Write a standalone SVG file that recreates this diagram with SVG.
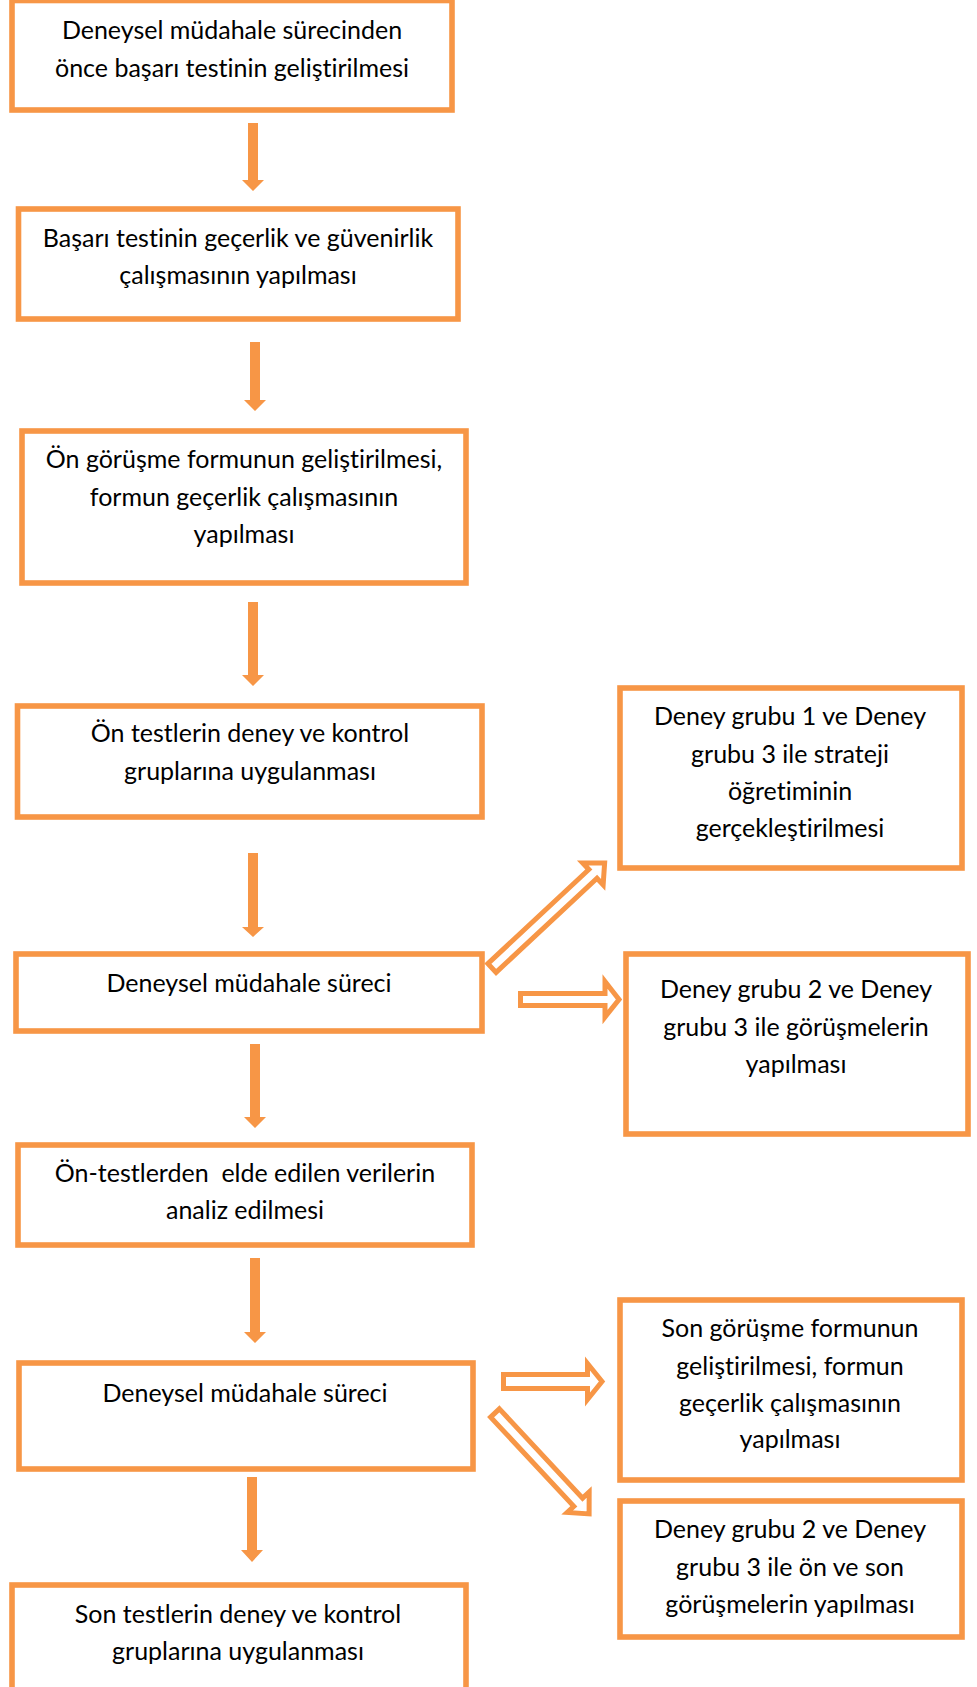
<svg xmlns="http://www.w3.org/2000/svg" width="977" height="1687" viewBox="0 0 977 1687">
<style>
.box{fill:#fff;stroke:#F79646;stroke-width:5.6}
.t{font-family:Lato,"Liberation Sans",sans-serif;font-size:25px;fill:#000;text-anchor:middle;white-space:pre;font-variant-ligatures:none;font-feature-settings:"liga" 0}
.down{fill:#F79646;stroke:none}
.blk{fill:#fff;stroke:#F79646;stroke-width:5;stroke-linejoin:miter}
</style>
<rect width="977" height="1687" fill="#fff"/>
<g id="connectors">
<polygon class="down" points="248,123 258,123 258,180 264,180 253,191 242,180 248,180"/>
<polygon class="down" points="250,342 260,342 260,400 266,400 255,411 244,400 250,400"/>
<polygon class="down" points="248,602 258,602 258,675 264,675 253,686 242,675 248,675"/>
<polygon class="down" points="248,853 258,853 258,927 264,927 253,937 242,927 248,927"/>
<polygon class="down" points="250,1044 260,1044 260,1117 266,1117 255,1128 244,1117 250,1117"/>
<polygon class="down" points="250,1258 260,1258 260,1332 266,1332 255,1343 244,1332 250,1332"/>
<polygon class="down" points="247,1477 257,1477 257,1550 263,1550 252,1562 241,1550 247,1550"/>
<polygon class="blk" transform="translate(492,968) rotate(-43)" points="0,-6 138,-6 138,-15 154,0 138,15 138,6 0,6"/>
<polygon class="blk" points="520.5,993.5 605,993.5 605,981.5 619,999.5 605,1017 605,1005.5 520.5,1005.5"/>
<polygon class="blk" points="503.5,1374.5 587.5,1374.5 587.5,1363.5 602,1381.5 587.5,1399.5 587.5,1388.5 503.5,1388.5"/>
<polygon class="blk" transform="translate(495,1413) rotate(47)" points="0,-6 122,-6 122,-15 138,0 122,15 122,6 0,6"/>
</g>
<g id="n1"><rect class="box" x="12" y="0.5" width="440" height="109.5"/>
<text class="t" x="232" y="39">Deneysel müdahale sürecinden</text>
<text class="t" x="232" y="77">önce başarı testinin geliştirilmesi</text></g>
<g id="n2"><rect class="box" x="18.5" y="209" width="439.5" height="110"/>
<text class="t" x="238" y="247">Başarı testinin geçerlik ve güvenirlik</text>
<text class="t" x="238" y="284">çalışmasının yapılması</text></g>
<g id="n3"><rect class="box" x="22" y="431" width="444" height="152"/>
<text class="t" x="244" y="468">Ön görüşme formunun geliştirilmesi,</text>
<text class="t" x="244" y="506">formun geçerlik çalışmasının</text>
<text class="t" x="244" y="543">yapılması</text></g>
<g id="n4"><rect class="box" x="17.5" y="706" width="464.5" height="111"/>
<text class="t" x="250" y="742">Ön testlerin deney ve kontrol</text>
<text class="t" x="250" y="780">gruplarına uygulanması</text></g>
<g id="n5"><rect class="box" x="620" y="688" width="342" height="180"/>
<text class="t" x="790" y="725">Deney grubu 1 ve Deney</text>
<text class="t" x="790" y="763">grubu 3 ile strateji</text>
<text class="t" x="790" y="800">öğretiminin</text>
<text class="t" x="790" y="837">gerçekleştirilmesi</text></g>
<g id="n6"><rect class="box" x="626" y="954" width="342" height="180"/>
<text class="t" x="796" y="998">Deney grubu 2 ve Deney</text>
<text class="t" x="796" y="1036">grubu 3 ile görüşmelerin</text>
<text class="t" x="796" y="1073">yapılması</text></g>
<g id="n7"><rect class="box" x="16" y="954" width="466" height="77"/>
<text class="t" x="249" y="992">Deneysel müdahale süreci</text></g>
<g id="n8"><rect class="box" x="18" y="1145" width="454" height="100"/>
<text class="t" x="245" y="1182">Ön-testlerden  elde edilen verilerin</text>
<text class="t" x="245" y="1219">analiz edilmesi</text></g>
<g id="n9"><rect class="box" x="19" y="1363" width="454" height="106"/>
<text class="t" x="245" y="1402">Deneysel müdahale süreci</text></g>
<g id="n10"><rect class="box" x="12" y="1585" width="454" height="120"/>
<text class="t" x="238" y="1623">Son testlerin deney ve kontrol</text>
<text class="t" x="238" y="1660">gruplarına uygulanması</text></g>
<g id="n11"><rect class="box" x="620" y="1300" width="342" height="180"/>
<text class="t" x="790" y="1337">Son görüşme formunun</text>
<text class="t" x="790" y="1375">geliştirilmesi, formun</text>
<text class="t" x="790" y="1412">geçerlik çalışmasının</text>
<text class="t" x="790" y="1448">yapılması</text></g>
<g id="n12"><rect class="box" x="620" y="1501" width="342" height="136"/>
<text class="t" x="790" y="1538">Deney grubu 2 ve Deney</text>
<text class="t" x="790" y="1576">grubu 3 ile ön ve son</text>
<text class="t" x="790" y="1613">görüşmelerin yapılması</text></g>
</svg>
